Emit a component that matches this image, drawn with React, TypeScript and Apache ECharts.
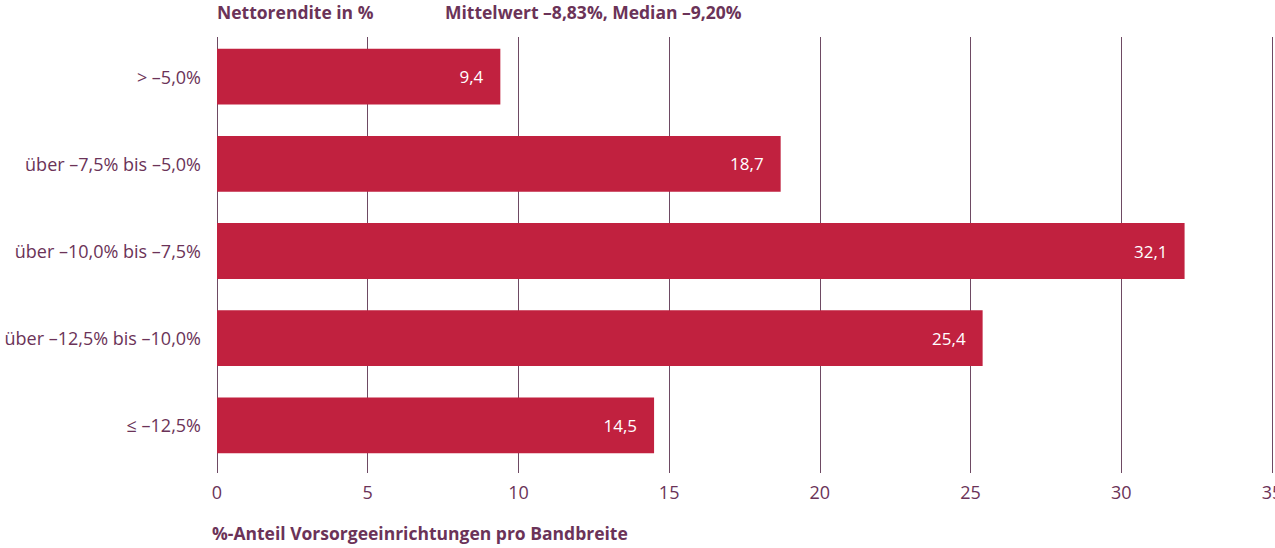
import React, { useEffect, useRef } from "react";
import * as echarts from "echarts";

const categories = [
  "> –5,0%",
  "über –7,5% bis –5,0%",
  "über –10,0% bis –7,5%",
  "über –12,5% bis –10,0%",
  "≤ –12,5%",
];
const values = [9.4, 18.7, 32.1, 25.4, 14.5];
const titleLeft = "Nettorendite in %";
const titleRight = "Mittelwert –8,83%, Median –9,20%";
const xAxisTitle = "%-Anteil Vorsorgeeinrichtungen pro Bandbreite";

const TEXT = "#6B3358";
const LINE = "#6E4A63";
const BAR = "#C1213F";
const FONT = "Open Sans";

export default function App() {
  const ref = useRef<HTMLDivElement>(null);
  useEffect(() => {
    if (!ref.current) return;
    const chart = echarts.init(ref.current, undefined, { renderer: "svg" });
    chart.setOption({
      animation: false,
      backgroundColor: "#ffffff",
      grid: [
        { left: 217, top: 33, width: 1055, height: 436, containLabel: false },
        { left: 217, top: 37, width: 1055, height: 436, containLabel: false },
      ],
      graphic: [
        {
          type: "text",
          left: 217,
          top: 3,
          style: { text: titleLeft, fill: TEXT, font: `bold 17.5px '${FONT}'` },
        },
        {
          type: "text",
          left: 445,
          top: 3,
          style: { text: titleRight, fill: TEXT, font: `bold 17.5px '${FONT}'` },
        },
        {
          type: "text",
          left: 212,
          top: 524,
          style: { text: xAxisTitle, fill: TEXT, font: `bold 17.5px '${FONT}'` },
        },
      ],
      xAxis: [
        {
          type: "value",
          gridIndex: 0,
          min: 0,
          max: 35,
          interval: 5,
          show: false,
        },
        {
          type: "value",
          gridIndex: 1,
          min: 0,
          max: 35,
          interval: 5,
          axisLine: { show: false },
          axisTick: { show: false },
          axisLabel: {
            color: TEXT,
            fontSize: 18,
            fontFamily: FONT,
            margin: 10,
            showMaxLabel: true,
          },
          splitLine: { show: true, lineStyle: { color: LINE, width: 1 } },
        },
      ],
      yAxis: [
        {
          type: "category",
          gridIndex: 0,
          data: categories,
          inverse: true,
          axisLine: { show: false },
          axisTick: { show: false },
          splitLine: { show: false },
          axisLabel: {
            color: TEXT,
            fontSize: 18,
            fontFamily: FONT,
            margin: 16,
          },
        },
        {
          type: "value",
          gridIndex: 1,
          show: false,
          splitLine: { show: false },
        },
      ],
      series: [
        {
          type: "bar",
          xAxisIndex: 0,
          yAxisIndex: 0,
          data: values,
          barCategoryGap: "36%",
          itemStyle: { color: BAR },
          z: 3,
          label: {
            show: true,
            position: "insideRight",
            distance: 17,
            color: "#ffffff",
            fontSize: 17,
            fontFamily: FONT,
            formatter: (p: any) => String(p.value).replace(".", ","),
          },
        },
      ],
    });
    return () => chart.dispose();
  }, []);
  return (
    <div
      ref={ref}
      style={{ position: "fixed", left: 0, top: 0, width: 1320, height: 548 }}
    />
  );
}
